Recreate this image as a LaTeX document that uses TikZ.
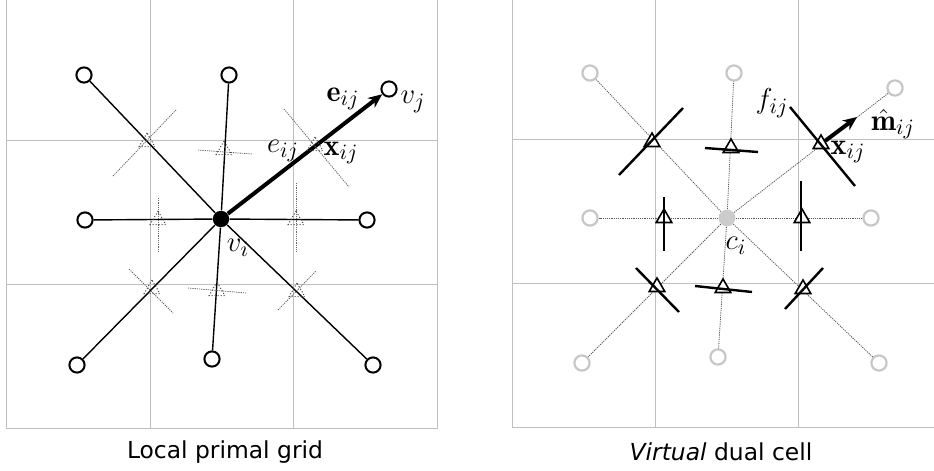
\documentclass[tikz,border=0pt]{standalone}
\usepackage{fontspec}
\setsansfont{DejaVu Sans}
\usetikzlibrary{shapes.geometric,arrows.meta}

\tikzset{
  gridline/.style={draw=black!25, line width=0.5pt},
  primalnode/.style={circle, draw=black, fill=white, line width=1pt, minimum size=7.6pt, inner sep=0pt},
  primalcentre/.style={circle, fill=black, minimum size=8.2pt, inner sep=0pt},
  primaledge/.style={draw=black, line width=0.7pt},
  primalface/.style={draw=black!60, line width=0.4pt, dash pattern=on 0.6pt off 0.5pt},
  primalmid/.style={regular polygon, regular polygon sides=3, draw=black!75, line width=0.5pt, densely dotted, minimum size=9pt, inner sep=0pt},
  ghostnode/.style={circle, draw=black!22, fill=white, line width=1.1pt, minimum size=7.6pt, inner sep=0pt},
  ghostcentre/.style={circle, fill=black!20, minimum size=8.4pt, inner sep=0pt},
  dualedge/.style={draw=black!65, line width=0.4pt, dash pattern=on 0.6pt off 0.5pt},
  dualface/.style={draw=black, line width=1.2pt},
  dualmid/.style={regular polygon, regular polygon sides=3, draw=black, fill=white, line width=0.8pt, minimum size=9pt, inner sep=0pt},
  mathlabel/.style={font=\fontsize{15}{17}\selectfont, inner sep=0pt},
  caption/.style={font=\sffamily\fontsize{11.7}{14}\selectfont}
}

\begin{document}
\begin{tikzpicture}[x=0.5pt, y=-0.5pt, >={Stealth[length=7pt,width=6pt]}]
  \useasboundingbox (0,0) rectangle (934,471);

  % Local primal grid
  \begin{scope}[shift={(221,219)}]
    % Grid
    \draw[gridline] (-215,-222) rectangle (216,209);
    \foreach \gx in {-71,72} \draw[gridline] (\gx,-222) -- (\gx,209);
    \foreach \gy in {-79,65} \draw[gridline] (-215,\gy) -- (216,\gy);

    % Nodes
    \node[primalcentre] (L-c) at (0,0) {};
    \foreach \n/\x/\y in {nw/-137/-144, n/8/-144, ne/168/-130, w/-136/1,
                          e/146/1, sw/-144/146, s/-9/140, se/152/146}
      \node[primalnode] (L-\n) at (\x,\y) {};

    % Edges
    \foreach \n in {nw,n,w,e,sw,s,se}
      \draw[primaledge] (L-c) -- (L-\n);
    \draw[->, line width=2pt] (L-c) -- (L-ne);

    % Faces
    \foreach \n/\x/\y/\ax/\ay/\bx/\by in {nw/-74/-77/-108/-43/-45/-109, n/3/-69/-23/-69/31/-65,
        ne/94/-73/63/-110/128/-32, w/-63/1/-63/-21/-63/33, e/75/1/75/-36/75/34,
        sw/-69/70/-92/50/-48/94, s/-4/72/-33/69/25/74, se/76/73/57/91/95/52} {
      \coordinate (L-f\n-a) at (\ax,\ay);
      \coordinate (L-f\n-b) at (\bx,\by);
      \draw[primalface] (L-f\n-a) -- (L-f\n-b);
      \node[primalmid] (L-x\n) at (\x,\y) {};
    }

    % Labels
    \node[mathlabel] (L-eij) at (122,-120) {$\mathbf{e}_{ij}$};
    \node[mathlabel] (L-vj) at (192,-117) {$v_j$};
    \node[mathlabel] (L-eijit) at (62,-68) {$e_{ij}$};
    \node[mathlabel] (L-xij) at (120,-66) {$\mathbf{x}_{ij}$};
    \node[mathlabel] (L-vi) at (17,29) {$v_i$};
  \end{scope}
  \node[caption] (L-caption) at (225,452) {Local primal grid};

  % Virtual dual cell
  \begin{scope}[shift={(727,218)}]
    % Grid
    \draw[gridline] (-215,-222) rectangle (216,209);
    \foreach \gx in {-72,71} \draw[gridline] (\gx,-222) -- (\gx,209);
    \foreach \gy in {-79,65} \draw[gridline] (-215,\gy) -- (216,\gy);

    % Nodes
    \node[ghostcentre] (R-c) at (0,0) {};
    \foreach \n/\x/\y in {nw/-137/-145, n/7/-145, ne/168/-130, w/-137/0,
                          e/144/0, sw/-145/145, s/-9/139, se/152/145}
      \node[ghostnode] (R-\n) at (\x,\y) {};

    % Edges
    \foreach \n in {nw,n,ne,w,e,sw,s,se}
      \draw[dualedge] (R-c) -- (R-\n);

    % Faces
    \foreach \n/\x/\y/\ax/\ay/\bx/\by in {nw/-75/-76/-108/-43/-44/-110, n/4/-70/-22/-70/31/-66,
        ne/94/-74/63/-111/128/-32, w/-63/0/-63/-21/-63/33, e/75/0/74/-37/74/33,
        sw/-70/69/-91/50/-48/94, s/-4/70/-32/68/25/74, se/76/71/58/91/96/50} {
      \coordinate (R-f\n-a) at (\ax,\ay);
      \coordinate (R-f\n-b) at (\bx,\by);
      \node[dualmid] (R-x\n) at (\x,\y) {};
      \draw[dualface] (R-f\n-a) -- (R-f\n-b);
    }
    \coordinate (R-mtip) at (130,-101);
    \draw[->, line width=2pt] (R-xne) -- (R-mtip);

    % Labels
    \node[mathlabel] (R-fij) at (45,-115) {$f_{ij}$};
    \node[mathlabel] (R-mij) at (166,-94) {$\hat{\mathbf{m}}_{ij}$};
    \node[mathlabel] (R-xij) at (121,-66) {$\mathbf{x}_{ij}$};
    \node[mathlabel] (R-ci) at (9,28) {$c_i$};
  \end{scope}
  \node[caption] (R-caption) at (721,452) {\textit{Virtual} dual cell};
\end{tikzpicture}
\end{document}
